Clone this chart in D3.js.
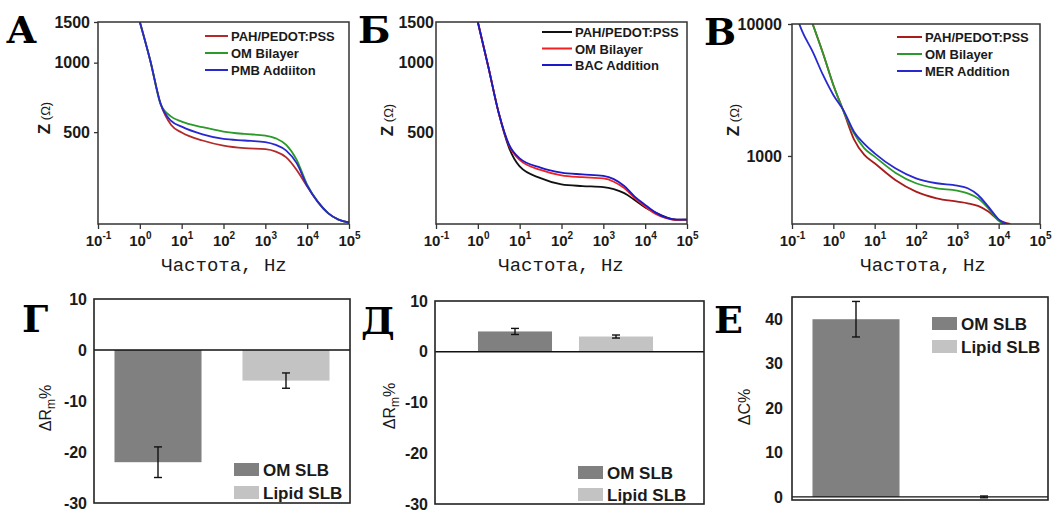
<!DOCTYPE html>
<html>
<head>
<meta charset="utf-8">
<script src="https://cdn.jsdelivr.net/npm/d3@7"></script>
<style>
  body { margin: 0; background: #fff; }
  svg text { font-family: "Liberation Sans", Arial, sans-serif; fill: #1a1a1a; }
  .tick text { font-weight: bold; }
  .letter { font-family: "DejaVu Serif", "Liberation Serif", serif; font-weight: bold; font-size: 38px; fill: #000; }
  .xlab { font-family: "Liberation Mono", "Courier New", monospace; font-size: 19px; }
  .leg { font-weight: bold; font-size: 13px; }
  .bleg { font-weight: bold; font-size: 17px; }
</style>
</head>
<body>
<svg width="1053" height="513"></svg>
<script>
// ---- данные ----
// частота, Гц, для панелей А и Б
var freqAB = [1, 1.78, 3.16, 5.62, 10, 31.6, 100, 316, 1000, 1780, 3160, 5620, 10000, 17800, 31600, 56200, 100000];
var zA_pah = [1500, 1020, 660, 537, 498, 460, 437, 426, 422, 412, 389, 343, 291, 250, 223, 209, 203];
var zA_om  = [1500, 1020, 660, 584, 555, 525, 503, 491, 483, 470, 440, 379, 296, 250, 223, 209, 203];
var zA_pmb = [1500, 1020, 660, 559, 528, 489, 467, 460, 453, 440, 416, 367, 293, 250, 223, 209, 203];

var zB_pah = [1500, 960, 605, 426, 355, 316, 297, 292, 289, 283, 272, 254, 236, 224, 214, 209, 209];
var zB_om  = [1500, 960, 605, 436, 379, 343, 325, 319, 315, 305, 286, 259, 238, 221, 212, 208, 209];
var zB_bac = [1500, 960, 605, 440, 385, 351, 334, 328, 323, 313, 292, 263, 242, 224, 213, 209, 209];

// панель В
var freqV     = [0.316, 0.562, 1, 1.78, 3.16, 5.62, 10, 31.6, 100, 316, 1000, 1780, 3160, 5620, 10000, 19000];
var zV_pah    = [10000, 5995, 3450, 2168, 1337, 1018, 880, 658, 537, 478, 451, 438, 418, 379, 327, 306];
var zV_om     = [10000, 5995, 3450, 2168, 1485, 1143, 988, 747, 621, 569, 546, 521, 478, 401, 322, 296];
var freqV_mer = [0.15, 0.178, 0.316, 0.562, 1, 1.78, 3.16, 5.62, 10, 31.6, 100, 316, 1000, 1780, 3160, 5620, 10000, 19000];
var zV_mer    = [10000, 8750, 6170, 4108, 2899, 2205, 1528, 1233, 1047, 806, 677, 621, 596, 569, 506, 413, 331, 300];

var xTickExp = [-1, 0, 1, 2, 3, 4, 5];

// столбцы
var barCats = ["OM SLB", "Lipid SLB"];
var dRm_G = [-22, -6],  dRm_G_err = [3, 1.5];
var dRm_D = [4, 3],     dRm_D_err = [0.6, 0.3];
var dC_E  = [40, 0],    dC_E_err  = [4, 0.2];
var barColors = ["#808080", "#c3c3c3"];

var svg = d3.select("svg");

function linePanel(o) {
  var g = svg.append("g");
  var x = d3.scaleLog().domain([0.1, 100000]).range([o.left, o.right]);
  var y = d3.scaleLog().domain(o.yDomain).range([o.bottom, o.top]);

  g.append("defs").append("clipPath")
      .attr("id", o.id)
    .append("rect")
      .attr("x", o.left).attr("y", o.top)
      .attr("width", o.right - o.left)
      .attr("height", o.bottom - o.top);

  var line = d3.line()
      .curve(d3.curveMonotoneX)
      .x(function(d) { return x(d[0]); })
      .y(function(d) { return y(d[1]); });

  g.append("g")
      .attr("clip-path", "url(#" + o.id + ")")
    .selectAll("path")
    .data(o.series)
    .enter().append("path")
      .attr("fill", "none")
      .attr("stroke", function(s) { return s.color; })
      .attr("stroke-width", 1.8)
      .attr("d", function(s) { return line(d3.zip(s.f, s.z)); });

  // рамка
  g.append("rect")
      .attr("x", o.left).attr("y", o.top)
      .attr("width", o.right - o.left)
      .attr("height", o.bottom - o.top)
      .attr("fill", "none")
      .attr("stroke", "#333")
      .attr("stroke-width", 1.5);

  var xa = g.append("g")
      .attr("transform", "translate(0," + o.bottom + ")")
      .call(d3.axisBottom(x)
        .tickValues(xTickExp.map(function(e) { return Math.pow(10, e); }))
        .tickSize(5).tickPadding(6).tickFormat(""));
  xa.select(".domain").remove();
  xa.selectAll(".tick line").attr("stroke", "#333").attr("stroke-width", 1.3);
  xa.selectAll(".tick text").each(function(d, i) {
    var t = d3.select(this).attr("font-size", 15).attr("font-family", "Liberation Sans, Arial, sans-serif");
    t.append("tspan").text("10");
    t.append("tspan").attr("dy", -7).attr("font-size", 10).text(xTickExp[i]);
  });

  var ya = g.append("g")
      .attr("transform", "translate(" + o.left + ",0)")
      .call(d3.axisLeft(y).tickValues(o.yTicks).tickFormat(function(d) { return String(d); })
        .tickSize(o.tickLen).tickPadding(o.tickPad));
  ya.select(".domain").remove();
  ya.selectAll(".tick line").attr("stroke", "#333").attr("stroke-width", 1.3);
  ya.selectAll(".tick text").attr("font-size", 16).attr("font-family", "Liberation Sans, Arial, sans-serif");

  // подписи осей
  var yl = g.append("text")
      .attr("transform", "translate(" + o.ylabX + "," + o.ylabY + ") rotate(-90)")
      .attr("text-anchor", "middle");
  yl.append("tspan").attr("font-weight", "bold").attr("font-size", 17).text("Z");
  yl.append("tspan").attr("font-size", 13).text(" (\u03A9)");

  g.append("text")
      .attr("class", "xlab")
      .attr("x", o.xlabX).attr("y", 271)
      .attr("text-anchor", "middle")
      .text("Частота, Hz");

  // легенда
  var lg = g.selectAll(".lg")
    .data(o.series)
    .enter().append("g")
      .attr("transform", function(s, i) { return "translate(0," + (o.legY + i * o.legDy) + ")"; });
  lg.append("line")
      .attr("x1", o.legX1).attr("x2", o.legX2)
      .attr("stroke", function(s) { return s.color; })
      .attr("stroke-width", 2);
  lg.append("text")
      .attr("class", "leg")
      .attr("x", o.legX2 + 3).attr("y", 5)
      .text(function(s) { return s.name; });

  g.append("text").attr("class", "letter")
      .attr("x", o.letterX).attr("y", o.letterY)
      .text(o.letter);
}

function barPanel(o) {
  var g = svg.append("g");
  var x = d3.scaleBand().domain(barCats).range(o.band)
      .paddingInner(o.pIn).paddingOuter(o.pOut);
  var y = d3.scaleLinear().domain(o.yDomain).range([o.bottom, o.top]);

  g.selectAll(".bar")
    .data(o.values)
    .enter().append("rect")
      .attr("x", function(d, i) { return x(barCats[i]); })
      .attr("width", x.bandwidth())
      .attr("y", function(d) { return y(Math.max(0, d)); })
      .attr("height", function(d) { return Math.abs(y(d) - y(0)); })
      .attr("fill", function(d, i) { return barColors[i]; });

  // погрешности
  var eb = g.selectAll(".err")
    .data(o.values)
    .enter().append("g")
      .attr("transform", function(d, i) { return "translate(" + (x(barCats[i]) + x.bandwidth() / 2) + ",0)"; });
  eb.append("line")
      .attr("y1", function(d, i) { return y(d - o.errs[i]); })
      .attr("y2", function(d, i) { return y(d + o.errs[i]); })
      .attr("stroke", "#111").attr("stroke-width", 1.4);
  [-1, 1].forEach(function(sg) {
    eb.append("line")
        .attr("x1", -4).attr("x2", 4)
        .attr("y1", function(d, i) { return y(d + sg * o.errs[i]); })
        .attr("y2", function(d, i) { return y(d + sg * o.errs[i]); })
        .attr("stroke", "#111").attr("stroke-width", 1.4);
  });

  // нулевая линия
  g.append("line")
      .attr("x1", o.left).attr("x2", o.right)
      .attr("y1", y(0)).attr("y2", y(0))
      .attr("stroke", "#111").attr("stroke-width", 1.3);

  g.append("rect")
      .attr("x", o.left).attr("y", o.top)
      .attr("width", o.right - o.left)
      .attr("height", o.bottom - o.top)
      .attr("fill", "none")
      .attr("stroke", "#222")
      .attr("stroke-width", 1.6);

  var ya = g.append("g")
      .attr("transform", "translate(" + o.left + ",0)")
      .call(d3.axisLeft(y).tickValues(o.yTicks).tickFormat(function(d) { return String(d); })
        .tickSize(0).tickPadding(o.tickPad));
  ya.select(".domain").remove();
  ya.selectAll(".tick text").attr("font-size", 16).attr("font-family", "Liberation Sans, Arial, sans-serif");

  var yl = g.append("text")
      .attr("transform", "translate(" + o.ylabX + "," + o.ylabY + ") rotate(-90)")
      .attr("text-anchor", "middle")
      .attr("font-size", 16);
  yl.append("tspan").text(o.ylab);
  if (o.ysub) {
    yl.append("tspan").attr("font-size", 12).attr("dy", 4).text(o.ysub);
    yl.append("tspan").attr("dy", -4).text("%");
  }

  var lg = g.selectAll(".bl")
    .data(barCats)
    .enter().append("g")
      .attr("transform", function(d, i) { return "translate(" + o.legX + "," + (o.legY + i * o.legDy) + ")"; });
  lg.append("rect")
      .attr("width", 25).attr("height", 13)
      .attr("fill", function(d, i) { return barColors[i]; });
  lg.append("text")
      .attr("class", "bleg")
      .attr("x", 29).attr("y", 12.5)
      .text(function(d) { return d; });

  g.append("text").attr("class", "letter")
      .attr("x", o.letterX).attr("y", o.letterY)
      .text(o.letter);
}

linePanel({
  id: "clipA", left: 98, right: 349, top: 22, bottom: 224,
  yDomain: [200, 1500], yTicks: [500, 1000, 1500], tickLen: 4, tickPad: 4,
  ylabX: 50, ylabY: 118, xlabX: 224,
  legX1: 205, legX2: 228, legY: 36, legDy: 17,
  letter: "А", letterX: 6, letterY: 43,
  series: [
    {name: "PAH/PEDOT:PSS", color: "#b42a2a", f: freqAB, z: zA_pah},
    {name: "OM Bilayer", color: "#2a9a2a", f: freqAB, z: zA_om},
    {name: "PMB Addiiton", color: "#2828d0", f: freqAB, z: zA_pmb}
  ]
});

linePanel({
  id: "clipB", left: 436, right: 687, top: 22, bottom: 224,
  yDomain: [200, 1500], yTicks: [500, 1000, 1500], tickLen: 0, tickPad: 2,
  ylabX: 393, ylabY: 120, xlabX: 561,
  legX1: 542, legX2: 572, legY: 32, legDy: 16.5,
  letter: "Б", letterX: 358, letterY: 43,
  series: [
    {name: "PAH/PEDOT:PSS", color: "#111111", f: freqAB, z: zB_pah},
    {name: "OM Bilayer", color: "#f22020", f: freqAB, z: zB_om},
    {name: "BAC Addition", color: "#1a1ac8", f: freqAB, z: zB_bac}
  ]
});

linePanel({
  id: "clipV", left: 792, right: 1040, top: 24, bottom: 224,
  yDomain: [305, 10000], yTicks: [1000, 10000], tickLen: 4, tickPad: 6,
  ylabX: 739, ylabY: 120, xlabX: 923,
  legX1: 897, legX2: 922, legY: 37, legDy: 17,
  letter: "В", letterX: 704, letterY: 45,
  series: [
    {name: "PAH/PEDOT:PSS", color: "#a81c1c", f: freqV, z: zV_pah},
    {name: "OM Bilayer", color: "#2a9a2a", f: freqV, z: zV_om},
    {name: "MER Addition", color: "#2828d0", f: freqV_mer, z: zV_mer}
  ]
});

barPanel({
  left: 94, right: 350, top: 299, bottom: 503, band: [94, 350], pIn: 0.32, pOut: 0.16,
  yDomain: [-30, 10], yTicks: [-30, -20, -10, 0, 10], tickPad: 7,
  values: dRm_G, errs: dRm_G_err,
  ylab: "\u0394R", ysub: "m", ylabX: 51, ylabY: 408,
  legX: 234, legY: 463, legDy: 23,
  letter: "Г", letterX: 22, letterY: 332
});

barPanel({
  left: 435, right: 704, top: 301, bottom: 504, band: [431, 700], pIn: 0.267, pOut: 0.465,
  yDomain: [-30, 10], yTicks: [-30, -20, -10, 0, 10], tickPad: 7,
  values: dRm_D, errs: dRm_D_err,
  ylab: "\u0394R", ysub: "m", ylabX: 395, ylabY: 406,
  legX: 578, legY: 466, legDy: 22,
  letter: "Д", letterX: 361, letterY: 334
});

barPanel({
  left: 792, right: 1048, top: 297, bottom: 500, band: [792, 1048], pIn: 0.32, pOut: 0.16,
  yDomain: [-0.7, 45], yTicks: [0, 10, 20, 30, 40], tickPad: 9,
  values: dC_E, errs: dC_E_err,
  ylab: "\u0394C%", ylabX: 750, ylabY: 407,
  legX: 932, legY: 317, legDy: 23,
  letter: "Е", letterX: 714, letterY: 333
});
</script>
</body>
</html>
